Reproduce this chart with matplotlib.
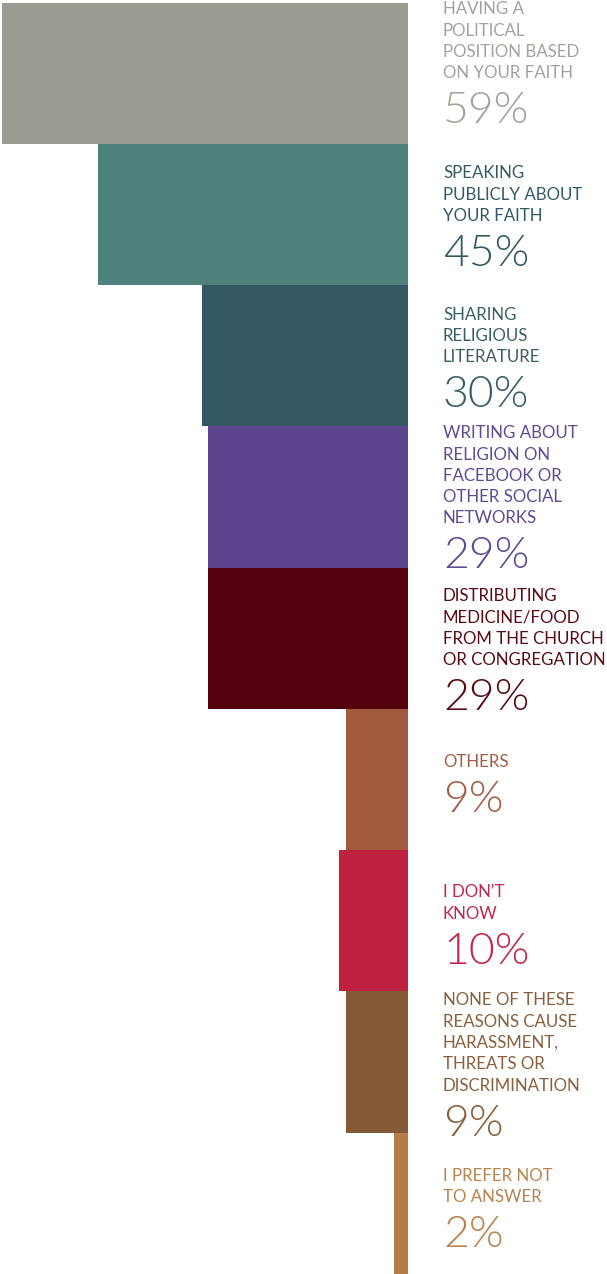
import matplotlib
matplotlib.use("Agg")
import matplotlib.pyplot as plt

# Share of respondents per reason
labels = [
    "HAVING A\nPOLITICAL\nPOSITION BASED\nON YOUR FAITH",
    "SPEAKING\nPUBLICLY ABOUT\nYOUR FAITH",
    "SHARING\nRELIGIOUS\nLITERATURE",
    "WRITING ABOUT\nRELIGION ON\nFACEBOOK OR\nOTHER SOCIAL\nNETWORKS",
    "DISTRIBUTING\nMEDICINE/FOOD\nFROM THE CHURCH\nOR CONGREGATION",
    "OTHERS",
    "I DON\u2019T\nKNOW",
    "NONE OF THESE\nREASONS CAUSE\nHARASSMENT,\nTHREATS OR\nDISCRIMINATION",
    "I PREFER NOT\nTO ANSWER",
]
values = [59, 45, 30, 29, 29, 9, 10, 9, 2]

bar_colors = ["#9a9b91", "#4f817c", "#345862", "#5c448e", "#55020f",
              "#a25a3e", "#bf2240", "#835936", "#b37c48"]
text_colors = ["#a2a39a", "#345a64", "#3a5e66", "#604a93", "#5a0a14",
               "#a25e44", "#c1274a", "#8a5f3c", "#b7834f"]

# extra downward shift of each text block, in pixels
nudge_px = [-10, 2, 2, 1, 12, 4, 4, 3, 5]

plt.rcParams["font.family"] = ["Lato", "DejaVu Sans"]

fig = plt.figure(figsize=(6.07, 12.74), dpi=100)
ax = fig.add_axes([0, 0, 1, 1])

# bars grow leftwards from zero
ypos = range(len(values))
ax.barh(ypos, [-v for v in values], height=1.0, align="edge",
        color=bar_colors, linewidth=0)

px_per_pct = 6.88
ax.set_xlim(-408 / px_per_pct, (607 - 408) / px_per_pct)
ax.set_ylim(len(values), -0.018)
ax.axis("off")

pt = 0.72  # points per pixel at 100 dpi
line_px = 21
for i, (lab, val, col) in enumerate(zip(labels, values, text_colors)):
    n = lab.count("\n") + 1
    block = line_px * n + 36
    yc = i + 0.5
    base = -(block / 2) - nudge_px[i]
    # percentage baseline sits at the bottom of the centred block
    ax.annotate(f"{val}%", xy=(0, yc), xytext=(35 * pt, base * pt),
                textcoords="offset points", ha="left", va="baseline",
                fontsize=32, fontweight=300, color=col)
    # last label line ends 45 px above the percentage baseline
    ax.annotate(lab, xy=(0, yc), xytext=(35 * pt, (base + 45) * pt),
                textcoords="offset points", ha="left", va="baseline",
                fontsize=12.2, color=col, linespacing=1.41)

fig.savefig("out.png", dpi=100)
